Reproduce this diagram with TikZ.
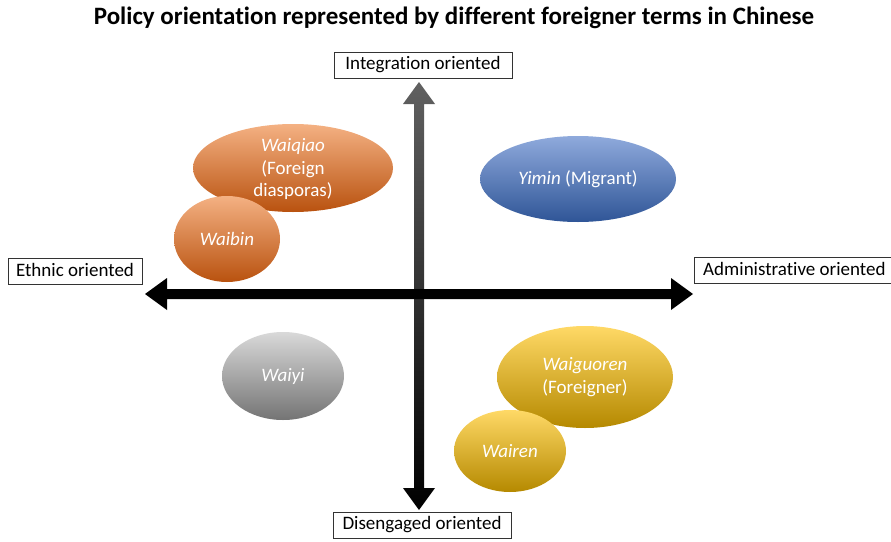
\documentclass[tikz,border=0pt]{standalone}
\usepackage{fontspec}
\setmainfont[Ligatures=NoCommon]{Carlito}
\usetikzlibrary{calc}
\definecolor{orT}{HTML}{F4B183}
\definecolor{orM}{HTML}{ED7D31}
\definecolor{orB}{HTML}{B9520F}
\definecolor{blT}{HTML}{8FAADC}
\definecolor{blM}{HTML}{4472C4}
\definecolor{blB}{HTML}{2F5597}
\definecolor{grT}{HTML}{D9D9D9}
\definecolor{grM}{HTML}{A5A5A5}
\definecolor{grB}{HTML}{747474}
\definecolor{ylT}{HTML}{FFD966}
\definecolor{ylM}{HTML}{FFC000}
\definecolor{ylB}{HTML}{B58900}
\tikzset{
  axlabel/.style={draw=black!80, line width=0.8pt, fill=white, font=\fontsize{19}{21}\selectfont, inner xsep=2pt, inner ysep=0pt, minimum height=26pt, text height=13pt, text depth=4pt},
  term/.style={text=white, align=center, font=\fontsize{19}{22.5}\selectfont},
}
\begin{document}
\begin{tikzpicture}[x=1pt,y=-1pt]
\useasboundingbox (0,0) rectangle (891,541);
\node[font=\bfseries\fontsize{25}{28}\selectfont] (title) at (454,18) {Policy orientation represented by different foreigner terms in Chinese};

% ellipses
\shade[top color=orT, middle color=orM, bottom color=orB] (293,168) ellipse [x radius=100, y radius=44];
\node[term] (waiqiao) at (293,169) {\textit{Waiqiao}\\(Foreign\\diasporas)};
\shade[top color=orT, middle color=orM, bottom color=orB] (227,239) ellipse [x radius=53, y radius=43];
\node[term] (waibin) at (227,239) {\textit{Waibin}};
\shade[top color=blT, middle color=blM, bottom color=blB] (578,179) ellipse [x radius=98, y radius=43];
\node[term] (yimin) at (578,179) {\textit{Yimin} (Migrant)};
\shade[top color=grT, middle color=grM, bottom color=grB] (283,376) ellipse [x radius=61, y radius=44];
\node[term] (waiyi) at (283,376) {\textit{Waiyi}};
\shade[top color=ylT, middle color=ylM, bottom color=ylB] (585,377) ellipse [x radius=88, y radius=51];
\node[term] (waiguoren) at (585,377) {\textit{Waiguoren}\\(Foreigner)};
\shade[top color=ylT, middle color=ylM, bottom color=ylB] (510,451) ellipse [x radius=56, y radius=41];
\node[term] (wairen) at (510,451) {\textit{Wairen}};

% axes
\coordinate (top) at (419,82);
\coordinate (bot) at (419,510);
\coordinate (lft) at (145,294);
\coordinate (rgt) at (693,294);
\shade[top color=black!62, bottom color=black]
  ($(top)+(-5,22)$) -- ($(top)+(-16,22)$) -- (top) -- ($(top)+(16,22)$) -- ($(top)+(5,22)$)
  -- ($(bot)+(5,-22)$) -- ($(bot)+(16,-22)$) -- (bot) -- ($(bot)+(-16,-22)$) -- ($(bot)+(-5,-22)$) -- cycle;
\fill[black]
  ($(lft)+(22,-5)$) -- ($(lft)+(22,-16)$) -- (lft) -- ($(lft)+(22,16)$) -- ($(lft)+(22,5)$)
  -- ($(rgt)+(-22,5)$) -- ($(rgt)+(-22,16)$) -- (rgt) -- ($(rgt)+(-22,-16)$) -- ($(rgt)+(-22,-5)$) -- cycle;

% axis labels
\node[axlabel, minimum width=178pt] (integ) at (423,65) {Integration oriented};
\node[axlabel, minimum width=134pt] (ethnic) at (75,271.5) {Ethnic oriented};
\node[axlabel, anchor=west, minimum width=200pt] (admin) at (694,270.5) {Administrative oriented};
\node[axlabel, minimum width=178pt] (diseng) at (422,525) {Disengaged oriented};
\end{tikzpicture}
\end{document}
